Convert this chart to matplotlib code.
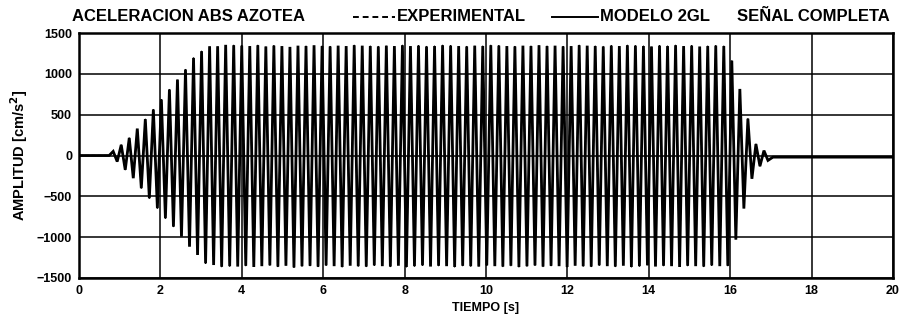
import numpy as np
import matplotlib
matplotlib.use("Agg")
import matplotlib.pyplot as plt
from matplotlib.lines import Line2D

FONT = ["Liberation Sans", "DejaVu Sans"]
plt.rcParams["font.family"] = FONT
plt.rcParams["font.weight"] = "bold"

# Peak readings of the roof absolute acceleration record [cm/s^2]
# positive peaks, one per cycle
pos_peaks = [50, 130, 215, 330, 445, 563, 685, 808, 930, 1053, 1195, 1277, 1338, 1338, 1355,
             1350, 1345, 1340, 1350, 1335, 1345, 1340, 1330, 1345, 1340,
             1350, 1340, 1335, 1345, 1340, 1350, 1345, 1340, 1335, 1345,
             1340, 1350, 1340, 1345, 1335, 1340, 1350, 1345, 1340, 1335,
             1345, 1340, 1350, 1345, 1340, 1335, 1345, 1340, 1350, 1340,
             1345, 1335, 1340, 1350, 1345, 1340, 1335, 1345, 1340, 1350,
             1345, 1340, 1335, 1345, 1340, 1350, 1340, 1345, 1335, 1340,
             1345, 1340,
             1160, 815, 450, 140, 60]
# negative peaks, one per cycle
neg_peaks = [-74, -175, -278, -400, -523, -645, -768, -871, -994, -1117, -1218, -1320, -1341, -1362,
             -1355, -1360, -1350, -1365, -1355, -1345, -1360, -1350, -1370, -1355,
             -1350, -1360, -1345, -1355, -1365, -1350, -1355, -1360, -1345, -1355,
             -1360, -1350, -1365, -1355, -1345, -1360, -1350, -1355, -1365, -1350,
             -1355, -1360, -1345, -1355, -1360, -1350, -1365, -1355, -1345, -1360,
             -1350, -1355, -1365, -1350, -1355, -1360, -1345, -1355, -1360, -1350,
             -1365, -1355, -1345, -1360, -1350, -1355, -1365, -1350, -1355, -1360,
             -1345, -1355, -1350,
             -1030, -650, -285, -130, -60]

t_first_peak = 0.84      # s
half_period = 0.0987     # s, between successive peaks
lead_t = [0.0, 0.74]
lead_a = [0.0, 0.0]
tail_t = [17.05, 20.0]
tail_a = [-20.0, -20.0]

x_ticks = [0, 2, 4, 6, 8, 10, 12, 14, 16, 18, 20]
y_ticks = [-1500, -1000, -500, 0, 500, 1000, 1500]

# assemble the alternating peak sequence
peaks = np.empty(len(pos_peaks) + len(neg_peaks))
peaks[0::2] = pos_peaks
peaks[1::2] = neg_peaks
t_peaks = t_first_peak + half_period * np.arange(len(peaks))
t = np.concatenate([lead_t, t_peaks, tail_t])
a = np.concatenate([lead_a, peaks, tail_a])

fig = plt.figure(figsize=(9.02, 3.21), dpi=100)
ax = fig.add_axes([79 / 902, 43 / 321, 814 / 902, 245 / 321])

ax.plot(t, a, color="black", lw=2.0, solid_joinstyle="miter", zorder=3)
ax.plot(t, a, color="black", lw=0.9, ls=(0, (3, 2)), zorder=4)

ax.set_xlim(0, 20)
ax.set_ylim(-1500, 1500)
ax.set_xticks(x_ticks)
ax.set_yticks(y_ticks)
ax.set_xticklabels([str(v) for v in x_ticks], fontsize=9, fontweight="bold")
ax.set_yticklabels([str(v).replace("-", "\u2212") for v in y_ticks], fontsize=9, fontweight="bold")
ax.tick_params(length=0, pad=5)
ax.grid(True, color="black", lw=1.1)
ax.set_axisbelow(True)
for s in ax.spines.values():
    s.set_linewidth(1.8)

ax.set_xlabel("TIEMPO [s]", fontsize=9, fontweight="bold", labelpad=4)
ax.set_ylabel("AMPLITUD [cm/s$^\\mathbf{2}$]", fontsize=10.5, fontweight="bold", labelpad=5)

# heading with inline legend
ty = 1 - 16.5 / 321
fig.text(72 / 902, ty, "ACELERACION ABS AZOTEA", fontsize=12, fontweight="bold", va="center", ha="left")
fig.add_artist(Line2D([353 / 902, 395 / 902], [ty, ty], color="black", lw=1.4, ls=(0, (3, 2)),
                      transform=fig.transFigure))
fig.text(397 / 902, ty, "EXPERIMENTAL", fontsize=12, fontweight="bold", va="center", ha="left")
fig.add_artist(Line2D([552 / 902, 598 / 902], [ty, ty], color="black", lw=1.4,
                      transform=fig.transFigure))
fig.text(600 / 902, ty, "MODELO 2GL", fontsize=12, fontweight="bold", va="center", ha="left")
fig.text(737 / 902, ty, "SEÑAL COMPLETA", fontsize=12, fontweight="bold", va="center", ha="left")

fig.savefig("out.png", dpi=100)
